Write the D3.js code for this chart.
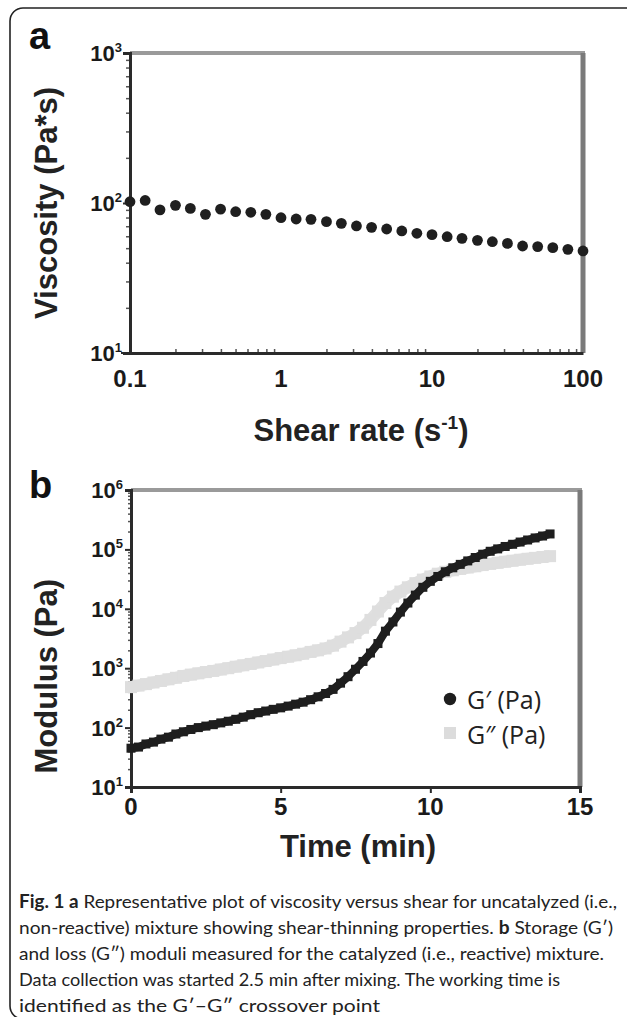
<!DOCTYPE html>
<html><head><meta charset="utf-8">
<script src="https://cdn.jsdelivr.net/npm/d3@7"></script>
<style>
html,body{margin:0;padding:0;background:#fff;}
svg{display:block;}
</style></head>
<body>
<svg id="fig" width="627" height="1017"></svg>
<script>
// ---------- Panel a data ----------
const shearRate = [0.1,0.126,0.158,0.2,0.251,0.316,0.398,0.501,0.631,0.794,
  1,1.26,1.58,2,2.51,3.16,3.98,5.01,6.31,7.94,
  10,12.6,15.8,20,25.1,31.6,39.8,50.1,63.1,79.4,100];
const viscosity = [102,104,90,96.5,92,84,91,87.5,86.7,84,
  79.8,78.2,77.8,75.1,73.2,70.3,68.8,67.1,65.1,62.8,
  61.5,59.6,58.1,56.4,55.2,53.8,51.7,51.2,50.4,49.1,47.9];
const xTicksA = [0.1,1,10,100];
const xTickLabelsA = ["0.1","1","10","100"];
const yTicksA = [10,100,1000];
const yExpA = ["1","2","3"];

// ---------- Panel b data ----------
const timeMin = [0,0.25,0.5,0.75,1,1.25,1.5,1.75,2,2.25,2.5,2.75,3,3.25,3.5,3.75,
  4,4.25,4.5,4.75,5,5.25,5.5,5.75,6,6.25,6.5,6.75,7,7.25,7.5,7.75,
  8,8.25,8.5,8.75,9,9.25,9.5,9.75,10,10.25,10.5,10.75,11,11.25,11.5,11.75,
  12,12.25,12.5,12.75,13,13.25,13.5,13.75,14];
const gPrime = [45,47,53,57,64,69,78,85,93,100,106,112,120,128,138,150,
  165,178,190,203,215,230,248,268,295,330,375,440,560,720,960,1300,
  1800,2600,4200,6000,8800,12500,17000,23000,29000,35000,42000,49000,56000,64000,73000,83000,
  93000,102000,112000,122000,133000,144000,156000,168000,182000];
const gDouble = [480,510,540,575,610,650,690,740,780,820,860,900,950,1000,1060,1120,
  1180,1250,1320,1400,1480,1560,1650,1750,1880,2000,2150,2400,2800,3300,3900,4800,
  6500,9000,12500,16000,19500,23000,27000,31000,35000,39000,42000,44500,47000,49500,52000,54500,
  57000,59500,62000,64500,67000,69500,72000,74500,77000];
const xTicksB = [0,5,10,15];
const yTicksB = [10,100,1000,10000,100000,1000000];
const yExpB = ["1","2","3","4","5","6"];
const legendLabels = ["G\u2032 (Pa)","G\u2033 (Pa)"];

const captionLines = [
  [["Fig. 1",true],[" a",true],[" Representative plot of viscosity versus shear for uncatalyzed (i.e.,",false]],
  [["non-reactive) mixture showing shear-thinning properties. ",false],["b",true],[" Storage (G\u2032)",false]],
  [["and loss (G\u2033) moduli measured for the catalyzed (i.e., reactive) mixture.",false]],
  [["Data collection was started 2.5 min after mixing. The working time is",false]],
  [["identified as the G\u2032\u2013G\u2033 crossover point",false]]
];

const svg = d3.select("#fig");
const AX = "#2a2a2a";
const FONT = "'Liberation Sans', Arial, sans-serif";

// outer frame
svg.append("rect").attr("x",10).attr("y",8).attr("width",640).attr("height",1011)
  .attr("rx",13).attr("fill","none").attr("stroke","#222").attr("stroke-width",1.6);

function minorLog(lo, hi){
  const out=[];
  for(let d=lo; d<hi; d*=10){ for(let k=2;k<10;k++) out.push(d*k); }
  return out;
}

// ================= Panel a =================
const xa = d3.scaleLog().domain([0.1,100]).range([130,583]);
const ya = d3.scaleLog().domain([10,1000]).range([353,53]);
const ga = svg.append("g");

ga.append("line").attr("x1",xa(0.1)).attr("x2",xa(100)+2).attr("y1",ya(1000)).attr("y2",ya(1000))
  .attr("stroke","#9a9a9a").attr("stroke-width",4);
ga.append("line").attr("x1",xa(100)).attr("x2",xa(100)).attr("y1",ya(1000)).attr("y2",ya(10))
  .attr("stroke","#7a7a7a").attr("stroke-width",5);

ga.append("g").attr("transform",`translate(${xa(0.1)},0)`)
  .call(d3.axisLeft(ya).tickValues(minorLog(10,1000)).tickSize(4).tickFormat(""))
  .call(g=>{g.select(".domain").remove(); g.selectAll("line").attr("stroke","#555").attr("stroke-width",1.5);});
ga.append("g").attr("transform",`translate(${xa(0.1)},0)`)
  .call(d3.axisLeft(ya).tickValues(yTicksA).tickSize(7).tickFormat(""))
  .call(g=>{g.select(".domain").attr("stroke",AX).attr("stroke-width",3); g.selectAll("line").attr("stroke",AX).attr("stroke-width",2);});
ga.append("g").attr("transform",`translate(0,${ya(10)})`)
  .call(d3.axisBottom(xa).tickValues(minorLog(0.1,100)).tickSize(-4).tickFormat(""))
  .call(g=>{g.select(".domain").remove(); g.selectAll("line").attr("stroke","#555").attr("stroke-width",1.5);});
ga.append("g").attr("transform",`translate(0,${ya(10)})`)
  .call(d3.axisBottom(xa).tickValues(xTicksA).tickSize(0).tickFormat(""))
  .call(g=>{g.select(".domain").attr("stroke",AX).attr("stroke-width",3);});
ga.append("line").attr("x1",xa(0.1)-9).attr("x2",xa(0.1)).attr("y1",ya(10)).attr("y2",ya(10)).attr("stroke",AX).attr("stroke-width",2);

ga.selectAll(".xl").data(xTicksA).join("text")
  .attr("x",d=>xa(d)).attr("y",ya(10)+34).attr("text-anchor","middle")
  .attr("font-family",FONT).attr("font-weight","bold").attr("font-size",24).attr("fill","#1a1a1a")
  .text((d,i)=>xTickLabelsA[i]);
yTicksA.forEach((v,i)=>{
  const t = ga.append("text").attr("x",xa(0.1)-8).attr("y",ya(v)+8).attr("text-anchor","end")
    .attr("font-family",FONT).attr("font-weight","bold").attr("fill","#1a1a1a");
  t.append("tspan").attr("font-size",22).text("10");
  t.append("tspan").attr("font-size",13).attr("dy",-9).text(yExpA[i]);
});
ga.append("text").attr("x",361).attr("y",441).attr("text-anchor","middle")
  .attr("font-family",FONT).attr("font-weight","bold").attr("font-size",31).attr("fill","#222")
  .call(t=>{t.append("tspan").text("Shear rate (s"); t.append("tspan").attr("font-size",19).attr("dy",-12).text("-1"); t.append("tspan").attr("dy",12).text(")");});
ga.append("text").attr("transform",`translate(57,${ya(100)}) rotate(-90)`).attr("text-anchor","middle")
  .attr("font-family",FONT).attr("font-weight","bold").attr("font-size",31).attr("fill","#222")
  .text("Viscosity (Pa*s)");
ga.append("text").attr("x",29).attr("y",49).attr("font-family",FONT).attr("font-weight","bold")
  .attr("font-size",38).attr("fill","#111").text("a");

ga.selectAll(".pt").data(shearRate).join("circle")
  .attr("cx",d=>xa(d)).attr("cy",(d,i)=>ya(viscosity[i])).attr("r",5.4)
  .attr("fill","#1f1f1f");

// ================= Panel b =================
const xb = d3.scaleLinear().domain([0,15]).range([131,580]);
const yb = d3.scaleLog().domain([10,1e6]).range([787,490]);
const gb = svg.append("g");

gb.append("line").attr("x1",xb(0)).attr("x2",xb(15)+2).attr("y1",yb(1e6)).attr("y2",yb(1e6))
  .attr("stroke","#9a9a9a").attr("stroke-width",4);
gb.append("line").attr("x1",xb(15)).attr("x2",xb(15)).attr("y1",yb(1e6)).attr("y2",yb(10))
  .attr("stroke","#7a7a7a").attr("stroke-width",5);

gb.append("g").attr("transform",`translate(${xb(0)},0)`)
  .call(d3.axisLeft(yb).tickValues(minorLog(10,1e6)).tickSize(3).tickFormat(""))
  .call(g=>{g.select(".domain").remove(); g.selectAll("line").attr("stroke","#555").attr("stroke-width",1.5);});
gb.append("g").attr("transform",`translate(${xb(0)},0)`)
  .call(d3.axisLeft(yb).tickValues(yTicksB).tickSize(6).tickFormat(""))
  .call(g=>{g.select(".domain").attr("stroke",AX).attr("stroke-width",3); g.selectAll("line").attr("stroke",AX).attr("stroke-width",2);});
gb.append("g").attr("transform",`translate(0,${yb(10)})`)
  .call(d3.axisBottom(xb).tickValues(xTicksB).tickSize(6).tickFormat(""))
  .call(g=>{g.select(".domain").attr("stroke",AX).attr("stroke-width",3); g.selectAll("line").attr("stroke",AX).attr("stroke-width",2);});

gb.selectAll(".xl").data(xTicksB).join("text")
  .attr("x",d=>xb(d)).attr("y",yb(10)+28).attr("text-anchor","middle")
  .attr("font-family",FONT).attr("font-weight","bold").attr("font-size",24).attr("fill","#1a1a1a")
  .text(d=>d);
yTicksB.forEach((v,i)=>{
  const t = gb.append("text").attr("x",xb(0)-8).attr("y",yb(v)+8).attr("text-anchor","end")
    .attr("font-family",FONT).attr("font-weight","bold").attr("fill","#1a1a1a");
  t.append("tspan").attr("font-size",22).text("10");
  t.append("tspan").attr("font-size",13).attr("dy",-9).text(yExpB[i]);
});
gb.append("text").attr("x",358).attr("y",857).attr("text-anchor","middle")
  .attr("font-family",FONT).attr("font-weight","bold").attr("font-size",31).attr("fill","#222")
  .text("Time (min)");
gb.append("text").attr("transform",`translate(57,${yb(1000)+8}) rotate(-90)`).attr("text-anchor","middle")
  .attr("font-family",FONT).attr("font-weight","bold").attr("font-size",31).attr("fill","#222")
  .text("Modulus (Pa)");
gb.append("text").attr("x",29).attr("y",498).attr("font-family",FONT).attr("font-weight","bold")
  .attr("font-size",38).attr("fill","#111").text("b");

const lineG = d3.line().x((d,i)=>xb(timeMin[i])).y(d=>yb(d));
gb.append("path").datum(gDouble).attr("d",lineG).attr("fill","none")
  .attr("stroke","#e0e0e0").attr("stroke-width",12).attr("stroke-linejoin","round");
gb.selectAll(".g2").data(gDouble).join("rect")
  .attr("x",(d,i)=>xb(timeMin[i])-6).attr("y",d=>yb(d)-6).attr("width",12).attr("height",12)
  .attr("fill","#dedede");
gb.append("path").datum(gPrime).attr("d",lineG).attr("fill","none")
  .attr("stroke","#1e1e1e").attr("stroke-width",8).attr("stroke-linejoin","round");
gb.selectAll(".g1").data(gPrime).join("rect")
  .attr("x",(d,i)=>xb(timeMin[i])-4.5).attr("y",d=>yb(d)-4.5).attr("width",9).attr("height",9)
  .attr("fill","#1e1e1e");

// legend
const LF = "'Open Sans', 'Noto Sans', sans-serif";
gb.append("circle").attr("cx",450).attr("cy",699).attr("r",6.2).attr("fill","#1e1e1e");
gb.append("rect").attr("x",444).attr("y",727).attr("width",12).attr("height",12).attr("fill","#dcdcdc");
legendLabels.forEach((s,i)=>{
  gb.append("text").attr("x",467).attr("y",709+i*35).attr("font-family",LF)
    .attr("font-size",25).attr("fill","#222").text(s);
});

// ================= Caption =================
const capEnds = [617,613,604,560,380];
captionLines.forEach((parts,i)=>{
  const t = svg.append("text").attr("x",19).attr("y",908+i*26)
    .attr("font-family","Lato, 'Open Sans', sans-serif").attr("font-size",18).attr("fill","#222")
    .attr("textLength",capEnds[i]-19).attr("lengthAdjust","spacingAndGlyphs");
  parts.forEach(p=>{
    t.append("tspan").attr("font-weight",p[1]?"bold":"normal").text(p[0]);
  });
});
</script>
</body></html>
